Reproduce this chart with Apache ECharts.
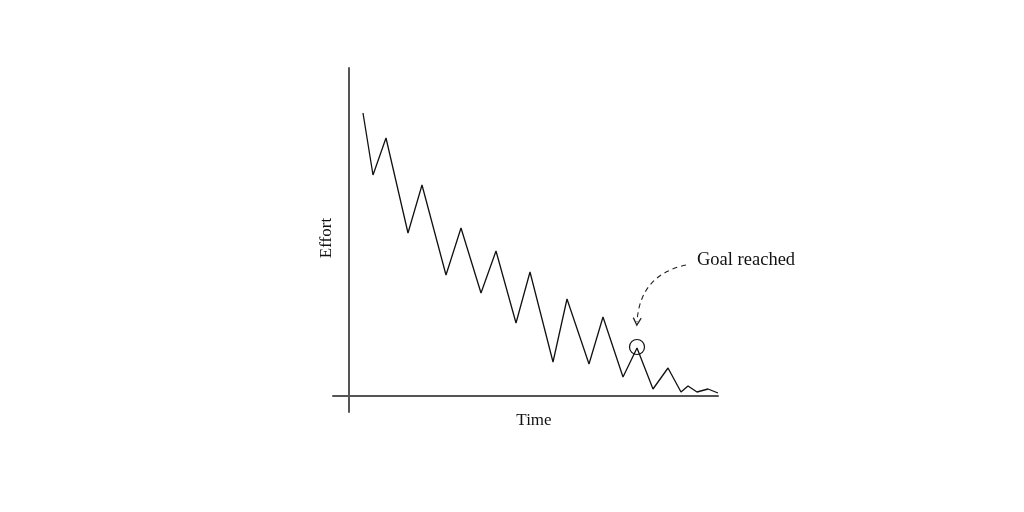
<!DOCTYPE html>
<html>
<head>
<meta charset="utf-8">
<script src="https://cdn.jsdelivr.net/npm/echarts@6/dist/echarts.min.js"></script>
<style>html,body{margin:0;padding:0;background:#fff}#c{width:1024px;height:512px}</style>
</head>
<body>
<div id="c"></div>
<script>
const timeValues = [14, 24, 37, 59, 73, 97, 112, 132, 147, 167, 181, 204, 218, 240, 254, 274, 288, 304, 319, 332, 339, 348, 359, 369];
const effortValues = [283, 221, 258, 163, 211, 121, 168, 103, 145, 73, 124, 34, 97, 32, 79, 19, 48, 7, 28, 4, 10, 4, 7, 3];
const goalPoint = [288, 49];
const arrowStart = [337, 131];
const arrowEnd = [288, 74];
const xLabel = 'Time';
const yLabel = 'Effort';
const goalLabel = 'Goal reached';

const chart = echarts.init(document.getElementById('c'), null, {renderer: 'canvas'});
const font = '"Liberation Serif", "DejaVu Serif", serif';
const axisLine = {show: true, onZero: true, lineStyle: {color: '#555', width: 2}};
chart.setOption({
  animation: false,
  backgroundColor: '#fff',
  grid: {left: 333, top: 68, width: 385, height: 344, containLabel: false},
  xAxis: {type: 'value', min: -16, max: 369, axisLine: axisLine, axisTick: {show: false}, axisLabel: {show: false}, splitLine: {show: false}},
  yAxis: {type: 'value', min: -16, max: 328, axisLine: axisLine, axisTick: {show: false}, axisLabel: {show: false}, splitLine: {show: false}},
  graphic: [
    {type: 'text', x: 534, y: 421, style: {text: xLabel, font: '17px ' + font, fill: '#111', align: 'center', verticalAlign: 'middle'}},
    {type: 'text', x: 327, y: 238, rotation: Math.PI / 2, style: {text: yLabel, font: '17px ' + font, fill: '#111', align: 'center', verticalAlign: 'middle'}},
    {type: 'text', x: 697, y: 260, style: {text: goalLabel, font: '18.5px ' + font, fill: '#111', align: 'left', verticalAlign: 'middle'}}
  ],
  series: [{
    type: 'line',
    data: timeValues.map((t, i) => [t, effortValues[i]]),
    showSymbol: false,
    symbol: 'none',
    lineStyle: {color: '#111', width: 1.3},
    markPoint: {
      symbol: 'circle', symbolSize: 15, silent: true,
      itemStyle: {color: 'rgba(0,0,0,0)', borderColor: '#111', borderWidth: 1.2},
      label: {show: false},
      data: [{coord: goalPoint}]
    }
  }, {
    type: 'lines',
    coordinateSystem: 'cartesian2d',
    silent: true,
    symbol: ['none', 'path://M5,0 L10,8 L8.8,8.8 L5,2.8 L1.2,8.8 L0,8 Z'],
    symbolSize: [11, 9],
    lineStyle: {color: '#222', width: 1.1, type: [5, 4], curveness: -0.38, opacity: 1},
    data: [{coords: [arrowStart, arrowEnd]}]
  }]
});
</script>
</body>
</html>
